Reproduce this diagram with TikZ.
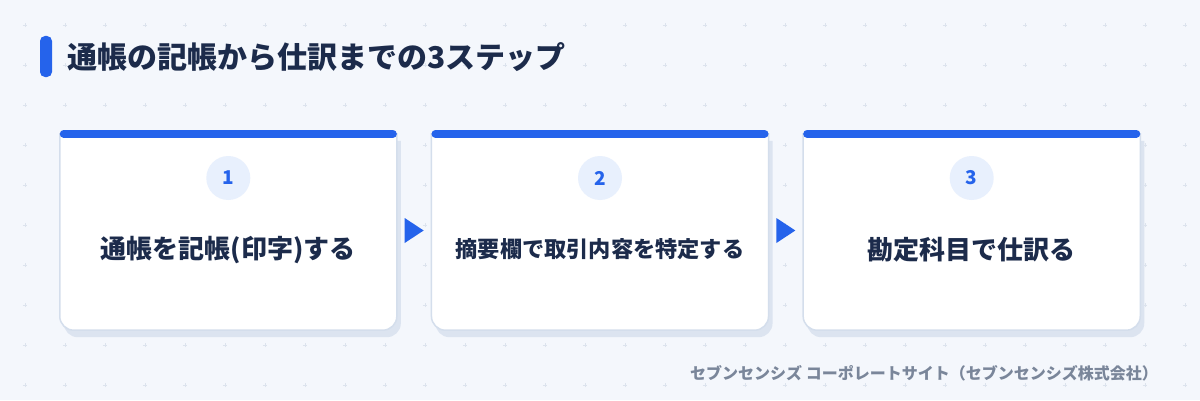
\documentclass[tikz,border=0pt]{standalone}
\usepackage{fontspec}
\setmainfont{Noto Sans CJK JP}
\usepackage{tikz}
\usetikzlibrary{calc,positioning}
\usepackage{xcolor}
\definecolor{mblue}{HTML}{2563EB}
\definecolor{mnavy}{HTML}{1C2B4B}
\definecolor{mbg}{HTML}{F4F7FC}
\definecolor{mgrid}{HTML}{DCE3ED}
\definecolor{mborder}{HTML}{D4DEEC}
\definecolor{mshade}{HTML}{DCE4F0}
\definecolor{mcircle}{HTML}{E8F0FD}
\definecolor{mgray}{HTML}{7A869A}
\tikzstyle{card}=[rectangle, minimum width=336.7pt, minimum height=196pt, inner sep=0pt]
\tikzstyle{cardfill}=[fill=white, draw=mborder, line width=1.5pt]
\tikzstyle{cardshade}=[fill=mshade]
\tikzstyle{topbar}=[draw=mblue, line width=8pt, line cap=round]
\tikzstyle{num}=[circle, fill=mcircle, minimum size=44pt, inner sep=0pt, text=mblue, font=\fontsize{19}{19}\selectfont\bfseries]
\tikzstyle{cardtext}=[text=mnavy, inner sep=0pt, font=\fontsize{26}{26}\selectfont\bfseries]
\tikzstyle{arrowtri}=[fill=mblue]
\tikzstyle{gridmark}=[draw=mgrid, line width=0.7pt]
\newcommand{\cardbody}[2]{%
  \path[#2] (#1.north west) -- ([yshift=14pt]#1.south west)
    arc[start angle=180, end angle=270, radius=14pt] -- ([xshift=-14pt]#1.south east)
    arc[start angle=270, end angle=360, radius=14pt] -- (#1.north east) -- cycle;}

\begin{document}
\begin{tikzpicture}[x=1pt, y=1pt, node distance=10pt, on grid]

    \useasboundingbox[fill=mbg] (0,0) rectangle (1200,400);
    \foreach \x in {25,65,...,1185}{
      \foreach \y in {15,55,...,375}{
        \draw[gridmark] (\x-2.2,\y) -- (\x+2.2,\y) (\x,\y-2.2) -- (\x,\y+2.2);
      }
    }

    \node[fill=mblue, rounded corners=5pt, minimum width=12pt, minimum height=41pt, inner sep=0pt] (bar) at (46,343.5) {};
    \node[anchor=west, text=mnavy, inner sep=0pt, font=\fontsize{30}{30}\selectfont\bfseries] (title) at (67,343) {通帳の記帳から仕訳までの3ステップ};

    \node[card] (s1) at (228.3,168) {};
    \node[card] (s2) [right=371.7pt of s1] {};
    \node[card] (s3) [right=371.7pt of s2] {};

    \foreach \s in {s1,s2,s3}{
      \cardbody{\s}{cardshade, transform canvas={shift={(4pt,-7pt)}}}
      \cardbody{\s}{cardfill}
      \draw[topbar] ([xshift=4pt]\s.north west) -- ([xshift=-4pt]\s.north east);
    }

    \node[num] (n1) [above=54pt of s1] {1};
    \node[num] (n2) [above=54pt of s2] {2};
    \node[num] (n3) [above=54pt of s3] {3};

    \node[cardtext] (t1) [below=18pt of s1] {通帳を記帳(印字)する};
    \node[cardtext, font=\fontsize{22.2}{22.2}\selectfont\bfseries] (t2) [below=17pt of s2] {摘要欄で取引内容を特定する};
    \node[cardtext] (t3) [below=18pt of s3] {勘定科目で仕訳る};

    \foreach \a/\b in {s1/s2,s2/s3}{
      \coordinate (m) at ($(\a.east)!0.5!(\b.west)+(0,1.5)$);
      \fill[arrowtri] ($(m)+(-9.5,12.5)$) -- ($(m)+(9.5,0)$) -- ($(m)+(-9.5,-12.5)$) -- cycle;
    }

    \node[anchor=east, text=mgray, inner sep=0pt, font=\fontsize{16}{16}\selectfont\bfseries] (foot) at (1158,27) {セブンセンシズ コーポレートサイト（セブンセンシズ株式会社）};

\end{tikzpicture}
\end{document}
